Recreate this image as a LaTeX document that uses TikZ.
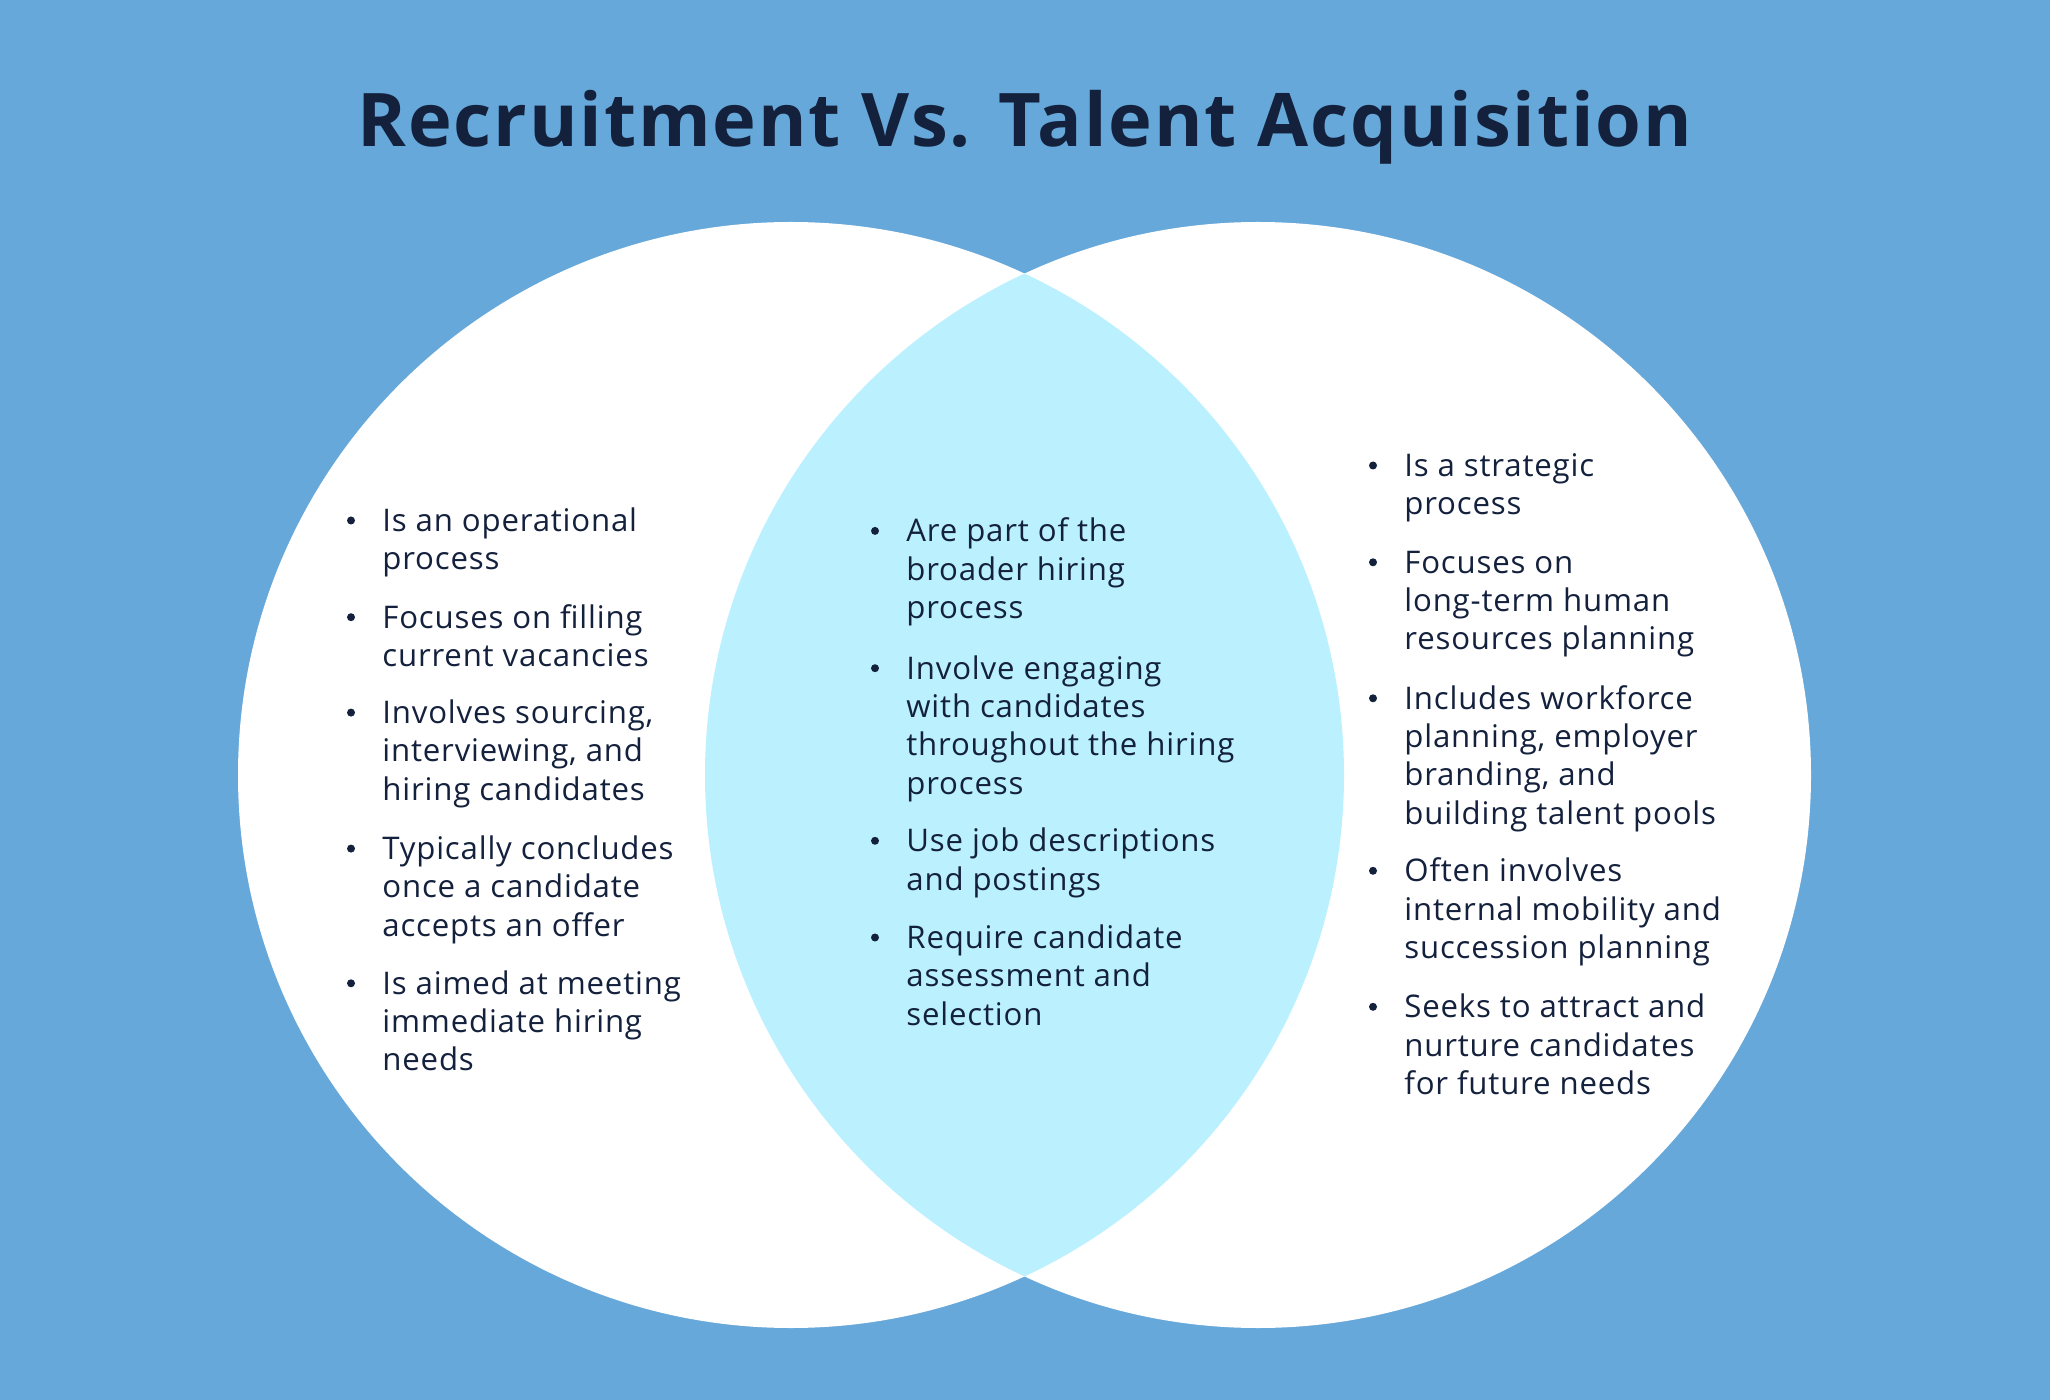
\documentclass[tikz,border=0pt]{standalone}
\usepackage{fontspec}
\setmainfont{Open Sans}[LetterSpace=2.6]
\newfontfamily\titlefont{Open Sans}[LetterSpace=2.5]
\usetikzlibrary{calc}
\definecolor{bg}{HTML}{66A8DA}
\definecolor{lens}{HTML}{BBF1FF}
\definecolor{ink}{HTML}{14213D}
\tikzset{
  itm/.style={anchor=base west, inner sep=0pt, text=ink, font=\fontsize{15.6}{19.15}\selectfont},
  ttl/.style={anchor=base, inner sep=0pt, text=ink, font=\titlefont\bfseries\fontsize{37}{44}\selectfont}
}
\newcommand\lns[1]{\begin{tabular}[t]{@{}l@{}}#1\end{tabular}}
\begin{document}
\begin{tikzpicture}[x=0.5pt,y=-0.5pt]
\fill[bg] (0,0) rectangle (2050,1400);
\useasboundingbox (0,0) rectangle (2050,1400);
\coordinate (L) at (791,775);
\coordinate (R) at (1258,775);
\fill[white] (L) circle (553);
\fill[white] (R) circle (553);
\begin{scope}
  \clip (L) circle (553);
  \fill[lens] (R) circle (553);
\end{scope}
\node[ttl] (title) at (1025,147) {Recruitment Vs. Talent Acquisition};
% left
\node[itm] (l1) at (382,531.5) {\lns{Is an operational\\process}};
\node[itm] (l2) at (382,628.2) {\lns{Focuses on filling\\current vacancies}};
\node[itm] (l3) at (382,723.6) {\lns{Involves sourcing,\\interviewing, and\\hiring candidates}};
\node[itm] (l4) at (382,859.6) {\lns{Typically concludes\\once a candidate\\accepts an offer}};
\node[itm] (l5) at (382,994.3) {\lns{Is aimed at meeting\\immediate hiring\\needs}};
% middle
\node[itm] (m1) at (906,541.9) {\lns{Are part of the\\broader hiring\\process}};
\node[itm] (m2) at (906,679.2) {\lns{Involve engaging\\with candidates\\throughout the hiring\\process}};
\node[itm] (m3) at (906,851.8) {\lns{Use job descriptions\\and postings}};
\node[itm] (m4) at (906,948.5) {\lns{Require candidate\\assessment and\\selection}};
% right
\node[itm] (r1) at (1404,476.5) {\lns{Is a strategic\\process}};
\node[itm] (r2) at (1404,573.3) {\lns{Focuses on\\long-term human\\resources planning}};
\node[itm] (r3) at (1404,709.3) {\lns{Includes workforce\\planning, employer\\branding, and\\building talent pools}};
\node[itm] (r4) at (1404,881.8) {\lns{Often involves\\internal mobility and\\succession planning}};
\node[itm] (r5) at (1404,1017.8) {\lns{Seeks to attract and\\nurture candidates\\for future needs}};
\foreach \n in {l1,l2,l3,l4,l5,m1,m2,m3,m4,r1,r2,r3,r4,r5}
  \fill[ink] ($(\n.base west)+(-31,-11)$) circle (4);
\end{tikzpicture}
\end{document}
